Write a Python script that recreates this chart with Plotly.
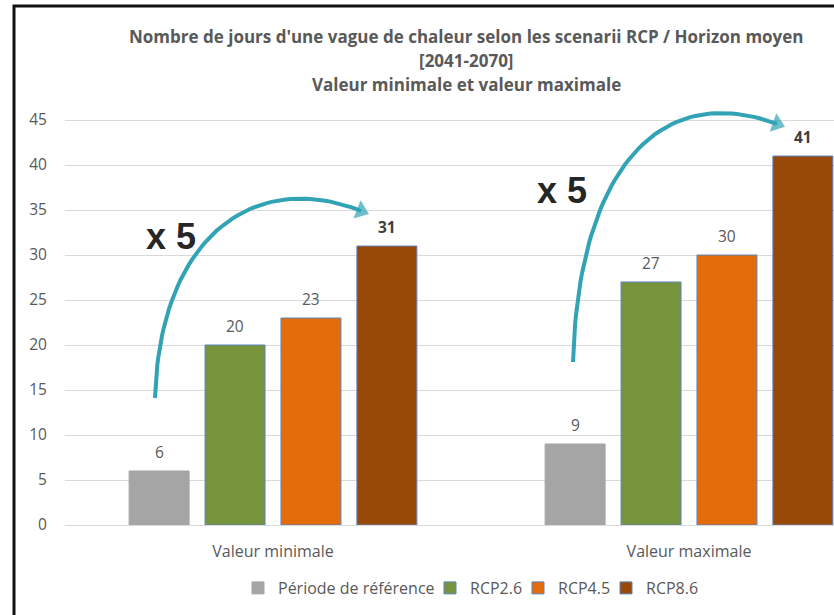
import plotly.graph_objects as go
import numpy as np

# ---- data ----
categories = ["Valeur minimale", "Valeur maximale"]
series_names = ["Période de référence", "RCP2.6", "RCP4.5", "RCP8.6"]
ref_values = [6, 9]
rcp26_values = [20, 27]
rcp45_values = [23, 30]
rcp86_values = [31, 41]
y_ticks = [0, 5, 10, 15, 20, 25, 30, 35, 40, 45]

series_values = [ref_values, rcp26_values, rcp45_values, rcp86_values]
colors = ["#A5A5A5", "#77933C", "#E46C0A", "#984807"]
outline = ["#A5A5A5", "#5B84C4", "#5B84C4", "#5B84C4"]
bold_label = [False, False, False, True]

W, H = 834, 615
ML, MR, MT, MB = 65, 0, 93, 90
BARGAP, GROUPGAP = 0.27, 0.21
FONT = "Open Sans"
GREY = "#595959"
TEAL = "#31A3B5"

ph = H - MT - MB
pw = W - ML - MR
def py2paper(py):
    return (H - MB - py) / ph
def px2paper(px):
    return (px - ML) / pw

legend_ids = ["legend", "legend2", "legend3", "legend4"]
legend_left_px = [238, 430, 518, 606]

xpos = list(range(len(categories)))
fig = go.Figure()
for name, vals, c, oc, lg in zip(series_names, series_values, colors, outline, legend_ids):
    fig.add_trace(go.Bar(
        x=xpos, y=vals, name=name, legend=lg,
        marker=dict(color=c, line=dict(color=oc, width=1)),
        hoverinfo="skip",
    ))

# data labels above bars
n = len(series_names)
slot = (1 - BARGAP) / n
annotations = []
for j, (vals, b) in enumerate(zip(series_values, bold_label)):
    for i, v in enumerate(vals):
        xo = xpos[i] + (j - (n - 1) / 2) * slot
        annotations.append(dict(
            x=xo, y=v, xref="x", yref="y", text=(f"<b>{v}</b>" if b else str(v)),
            showarrow=False, yanchor="middle", yshift=19,
            font=dict(family=FONT, size=15.5, color="#404040" if b else GREY),
        ))

# curved arrows (cubic Bezier in data coordinates)
def bezier(p0, p1, p2, p3, k=60):
    t = np.linspace(0, 1, k)[:, None]
    P = [np.array(p) for p in (p0, p1, p2, p3)]
    pts = ((1 - t) ** 3) * P[0] + 3 * ((1 - t) ** 2) * t * P[1] + 3 * (1 - t) * t ** 2 * P[2] + t ** 3 * P[3]
    return pts[:, 0], pts[:, 1]

arrows = [
    [(-0.2837, 14.11), (-0.2716, 32.78), (-0.0312, 39.44), (0.2115, 34.89)],
    [(0.7212, 18.11), (0.7332, 39.44), (0.9303, 49.44), (1.2115, 44.56)],
]
for a in arrows:
    bx, by = bezier(*a)
    sizes = [0] * (len(bx) - 1) + [17]
    fig.add_trace(go.Scatter(
        x=bx, y=by, mode="lines+markers",
        line=dict(color=TEAL, width=4),
        marker=dict(symbol="triangle-up", size=sizes, color=TEAL, angleref="previous", line=dict(width=0)),
        showlegend=False, hoverinfo="skip", cliponaxis=False,
    ))

# "x 5" labels
for (x, y) in [(-0.245, 32.1), (0.695, 37.2)]:
    annotations.append(dict(
        x=x, y=y, xref="x", yref="y", text="<b>x 5</b>", showarrow=False,
        font=dict(family="Liberation Sans", size=36, color="#262626"),
    ))

# title lines
title_lines = [
    "Nombre de jours d'une vague de chaleur selon les scenarii RCP / Horizon moyen",
    "[2041-2070]",
    "Valeur minimale et valeur maximale",
]
for line, py in zip(title_lines, [36, 61, 85]):
    annotations.append(dict(
        x=px2paper(466), y=py2paper(py), xref="paper", yref="paper",
        text=f"<b>{line}</b>", showarrow=False, yanchor="middle",
        font=dict(family=FONT, size=17, color=GREY),
    ))

# outer frame (left and top edges)
shapes = [dict(
    type="path", xref="paper", yref="paper",
    path=f"M {px2paper(14)},{py2paper(620)} L {px2paper(14)},{py2paper(6)} L {px2paper(840)},{py2paper(6)}",
    line=dict(color="#111111", width=3),
)]

legend_cfg = {}
for lg, lx in zip(legend_ids, legend_left_px):
    legend_cfg[lg] = dict(
        orientation="h", x=px2paper(lx), xanchor="left", y=py2paper(588), yanchor="middle",
        font=dict(family=FONT, size=16, color=GREY), bgcolor="rgba(0,0,0,0)",
    )

fig.update_layout(
    width=W, height=H,
    margin=dict(l=ML, r=MR, t=MT, b=MB),
    paper_bgcolor="white", plot_bgcolor="white",
    barmode="group", bargap=BARGAP, bargroupgap=GROUPGAP,
    font=dict(family=FONT, size=15, color=GREY),
    xaxis=dict(
        range=[-0.5, -0.5 + pw / 416], tickvals=xpos, ticktext=categories,
        showgrid=False, zeroline=False, showline=True, linecolor="#D9D9D9",
        ticks="outside", ticklen=12, tickcolor="rgba(0,0,0,0)",
        tickfont=dict(family=FONT, size=16, color=GREY), fixedrange=True,
    ),
    yaxis=dict(
        range=[0, 48], tickvals=y_ticks, showgrid=True, gridcolor="#D9D9D9",
        zeroline=False, ticks="outside", ticklen=14, tickcolor="rgba(0,0,0,0)",
        tickfont=dict(family=FONT, size=15.5, color=GREY), fixedrange=True,
    ),
    annotations=annotations, shapes=shapes, showlegend=True,
    **legend_cfg,
)

fig.write_html("out.html", config={"displayModeBar": False},
               post_script="document.body.style.margin='0px';")
